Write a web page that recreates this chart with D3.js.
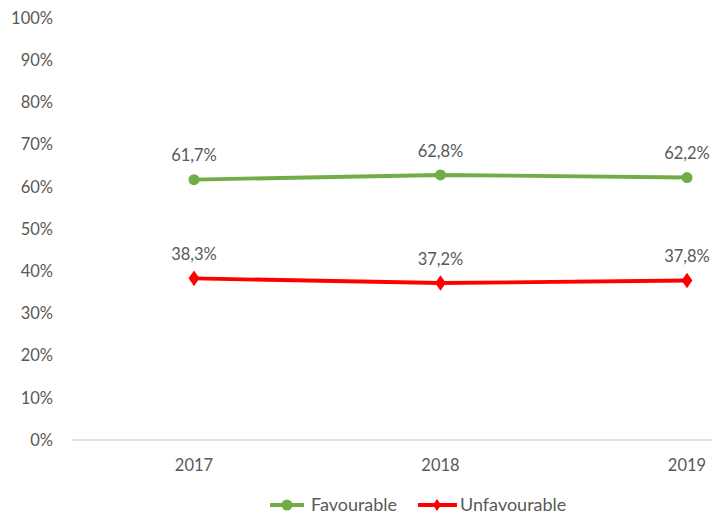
<!DOCTYPE html>
<html><head><meta charset="utf-8">
<script src="https://cdn.jsdelivr.net/npm/d3@7"></script>
<style>body{margin:0;background:#fff}text{font-family:Lato,"Open Sans",sans-serif;fill:#595959}</style>
</head><body><svg id="c" width="712" height="516"></svg>
<script>
const years = ["2017","2018","2019"];
const favourable = [61.7, 62.8, 62.2];
const unfavourable = [38.3, 37.2, 37.8];
const yTicks = [0,10,20,30,40,50,60,70,80,90,100];
const seriesNames = ["Favourable","Unfavourable"];
const colors = ["#70AD47","#FF0000"];

const svg = d3.select("#c");
const x = d3.scalePoint().domain(years).range([194,687]);
const y = d3.scaleLinear().domain([0,100]).range([440,18]);
const fmt = v => v.toFixed(1).replace(".",",") + "%";

svg.selectAll(".yt").data(yTicks).enter().append("text")
  .attr("x",53).attr("y",d=>y(d)).attr("dy","0.35em").attr("text-anchor","end")
  .style("font-size","16.5px").text(d=>d+"%");
svg.append("line").attr("x1",72).attr("x2",712).attr("y1",y(0)).attr("y2",y(0))
  .attr("stroke","#d9d9d9").attr("stroke-width",1.3);
svg.selectAll(".xt").data(years).enter().append("text")
  .attr("x",d=>x(d)).attr("y",465).attr("dy","0.35em").attr("text-anchor","middle")
  .style("font-size","16.5px").text(d=>d);

const line = d3.line().x((d,i)=>x(years[i])).y(d=>y(d));
const data = [favourable, unfavourable];
data.forEach((s,k)=>{
  svg.append("path").datum(s).attr("d",line).attr("fill","none")
    .attr("stroke",colors[k]).attr("stroke-width",3.8).attr("stroke-linecap","round");
  if(k===0){
    svg.selectAll(".m"+k).data(s).enter().append("circle")
      .attr("cx",(d,i)=>x(years[i])).attr("cy",d=>y(d)).attr("r",5.5).attr("fill",colors[k]);
  } else {
    svg.selectAll(".m"+k).data(s).enter().append("path")
      .attr("d",d3.symbol().type(d3.symbolDiamond).size(70))
      .attr("transform",(d,i)=>`translate(${x(years[i])},${y(d)}) scale(1.2,1)`).attr("fill",colors[k]);
  }
  svg.selectAll(".l"+k).data(s).enter().append("text")
    .attr("x",(d,i)=>x(years[i])).attr("y",d=>y(d)-24).attr("dy","0.35em").attr("text-anchor","middle")
    .style("font-size","16.5px").text(d=>fmt(d));
});

const lg = [{x:270,tx:311},{x:418,tx:460}];
seriesNames.forEach((n,k)=>{
  const g = svg.append("g");
  g.append("line").attr("x1",lg[k].x).attr("x2",lg[k].x+(k===0?34:39)).attr("y1",505).attr("y2",505)
    .attr("stroke",colors[k]).attr("stroke-width",3.8);
  if(k===0) g.append("circle").attr("cx",lg[k].x+17).attr("cy",505).attr("r",5.5).attr("fill",colors[k]);
  else g.append("path").attr("d",d3.symbol().type(d3.symbolDiamond).size(40))
    .attr("transform",`translate(${lg[k].x+19},505) scale(1.2,1)`).attr("fill",colors[k]);
  g.append("text").attr("x",lg[k].tx).attr("y",505).attr("dy","0.35em").style("font-size","18px").text(n);
});
</script></body></html>
